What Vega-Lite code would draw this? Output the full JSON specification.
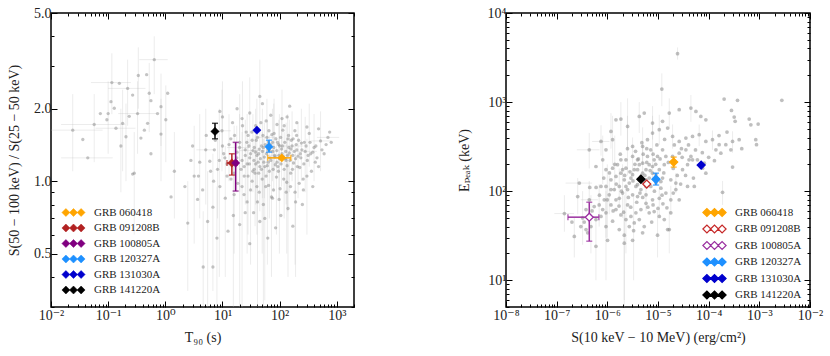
{
"$schema": "https://vega.github.io/schema/vega-lite/v6.json",
"background": "white",
"padding": {"left": 6, "top": 5, "right": 5, "bottom": 5},
"spacing": 152,
"bounds": "flush",
"config": {
 "font": "Liberation Serif",
 "view": {"stroke": "black", "strokeWidth": 1.5},
 "axis": {"grid": false, "domain": false, "labelFont": "Liberation Serif, DejaVu Serif, serif", "labelFontSize": 14, "labelColor": "#222", "titleFont": "Liberation Serif, DejaVu Serif, serif", "titleFontSize": 14, "titleFontWeight": "normal", "titleColor": "#222", "tickColor": "black", "labelOverlap": false, "labelFlush": false, "labelBound": false},
 "legend": {"labelFont": "Liberation Serif, DejaVu Serif, serif", "labelFontSize": 11, "labelColor": "#222"}
},
"datasets": {
 "L": [
  {"t":3.2,"r":1.05,"r1":0.55,"r2":1.7},{"t":4.5,"r":0.92},{"t":5.1,"r":1.35,"r1":0.8,"r2":2.0,"t1":3.5,"t2":7},{"t":6.0,"r":1.21},{"t":6.8,"r":0.78,"r1":0.35,"r2":1.3},{"t":7.5,"r":1.48},{"t":8.2,"r":1.12,"r1":0.7,"r2":1.6},{"t":9.0,"r":0.95},{"t":9.8,"r":1.62,"r1":1.1,"r2":2.4,"t1":6,"t2":14},{"t":10.5,"r":1.30},
  {"t":11.2,"r":0.85,"r1":0.4,"r2":1.4},{"t":12,"r":1.18},{"t":13,"r":1.42,"r1":1.0,"r2":1.9},{"t":14.1,"r":1.02},{"t":15.5,"r":0.72,"r1":0.3,"r2":1.2},{"t":16.3,"r":1.55},{"t":17.8,"r":1.25,"r1":0.9,"r2":1.7},{"t":18.5,"r":0.98},{"t":19.9,"r":1.38,"r1":0.95,"r2":1.9,"t1":12,"t2":30},{"t":21,"r":1.12},
  {"t":22.4,"r":1.70,"r1":1.1,"r2":2.6},{"t":23.8,"r":0.88},{"t":25.1,"r":1.28,"r1":0.8,"r2":1.8},{"t":26.6,"r":1.45},{"t":28,"r":1.05,"r1":0.6,"r2":1.5},{"t":29.5,"r":1.18},{"t":31,"r":0.92,"r1":0.45,"r2":1.45},{"t":32.6,"r":1.60},{"t":34.1,"r":1.34,"r1":0.9,"r2":1.9,"t1":20,"t2":55},{"t":35.5,"r":1.22},
  {"t":37.2,"r":1.08,"r1":0.65,"r2":1.55},{"t":39,"r":1.48},{"t":41,"r":0.82,"r1":0.3,"r2":1.35},{"t":43,"r":1.30},{"t":45,"r":1.15,"r1":0.75,"r2":1.6},{"t":47,"r":1.75},{"t":49.5,"r":1.02,"r1":0.5,"r2":1.6},{"t":52,"r":1.38},{"t":54,"r":1.26,"r1":0.85,"r2":1.75},{"t":57,"r":0.95},
  {"t":60,"r":1.52,"r1":1.05,"r2":2.2,"t1":40,"t2":90},{"t":63,"r":1.20},{"t":66,"r":1.10,"r1":0.7,"r2":1.55},{"t":69,"r":1.42},{"t":72,"r":0.86,"r1":0.4,"r2":1.35},{"t":76,"r":1.33},{"t":80,"r":1.58,"r1":1.1,"r2":2.2},{"t":84,"r":1.17},{"t":88,"r":1.04,"r1":0.6,"r2":1.5},{"t":92,"r":1.45},
  {"t":97,"r":1.28,"r1":0.85,"r2":1.8,"t1":60,"t2":150},{"t":102,"r":0.93},{"t":108,"r":1.36,"r1":0.95,"r2":1.85},{"t":114,"r":1.63},{"t":120,"r":1.12,"r1":0.7,"r2":1.6},{"t":126,"r":1.24},{"t":133,"r":0.99,"r1":0.5,"r2":1.5},{"t":140,"r":1.50},{"t":148,"r":1.31,"r1":0.9,"r2":1.8},{"t":156,"r":1.08},
  {"t":165,"r":1.40,"r1":1.0,"r2":1.95,"t1":100,"t2":260},{"t":175,"r":1.19},{"t":186,"r":0.90,"r1":0.45,"r2":1.4},{"t":198,"r":1.55},{"t":210,"r":1.27,"r1":0.85,"r2":1.75},{"t":225,"r":1.14},{"t":240,"r":1.44,"r1":1.0,"r2":2.0},{"t":258,"r":1.02},{"t":280,"r":1.33,"r1":0.9,"r2":1.85,"t1":180,"t2":450},{"t":305,"r":1.22},
  {"t":330,"r":1.58,"r1":1.15,"r2":2.1},{"t":360,"r":1.10},{"t":400,"r":1.38,"r1":1.0,"r2":1.9},{"t":450,"r":1.25},{"t":520,"r":1.47,"r1":1.1,"r2":1.95,"t1":350,"t2":800},{"t":600,"r":1.30},{"t":700,"r":1.52,"t1":450,"t2":1100},
  {"t":5.5,"r":0.68,"r1":0.3,"r2":1.1},{"t":12.5,"r":0.62},{"t":20,"r":0.66,"r1":0.3,"r2":1.1},{"t":35,"r":0.74},{"t":55,"r":0.70,"r1":0.32,"r2":1.15},{"t":85,"r":0.64},{"t":140,"r":0.77,"r1":0.4,"r2":1.2},{"t":250,"r":0.80},{"t":8,"r":0.58,"r1":0.3,"r2":0.95},{"t":4.6,"r":0.44,"r1":0.3,"r2":0.75},{"t":6.8,"r":0.44},
  {"t":10,"r":1.85,"r1":1.3,"r2":2.6},{"t":18,"r":2.0},{"t":30,"r":1.92,"r1":1.4,"r2":2.7},{"t":50,"r":2.1},{"t":70,"r":1.88},{"t":110,"r":1.82,"r1":1.35,"r2":2.4},{"t":150,"r":2.05},{"t":45,"r":2.25,"r1":1.6,"r2":3.2},
  {"t":25,"r":1.35},{"t":30,"r":1.25},{"t":38,"r":1.32,"r1":0.8,"r2":2.0},{"t":42,"r":1.20},{"t":48,"r":1.40},{"t":55,"r":1.15},{"t":62,"r":1.35},{"t":68,"r":1.25},{"t":75,"r":1.45,"r1":1.0,"r2":2.0},{"t":82,"r":1.28},
  {"t":90,"r":1.20},{"t":100,"r":1.40},{"t":110,"r":1.30},{"t":130,"r":1.22,"r1":0.8,"r2":1.75},{"t":145,"r":1.38},{"t":170,"r":1.28},{"t":200,"r":1.35},{"t":230,"r":1.30},{"t":160,"r":1.48},{"t":95,"r":1.10},
  {"t":58,"r":1.05},{"t":36,"r":1.12},{"t":24,"r":1.15},{"t":28,"r":1.55},{"t":65,"r":1.62},{"t":120,"r":1.70},{"t":185,"r":1.62},{"t":270,"r":1.45},{"t":350,"r":1.30},{"t":420,"r":1.20},
  {"t":300,"r":1.05,"r1":0.6,"r2":1.5},{"t":220,"r":0.98},{"t":130,"r":0.90},{"t":75,"r":0.85},{"t":40,"r":0.95},{"t":16,"r":1.08,"r1":0.5,"r2":1.7},{"t":11,"r":1.25},{"t":7,"r":1.00},{"t":4,"r":1.20,"r1":0.7,"r2":1.9},{"t":3,"r":1.40},
  {"t":18,"r":1.32},{"t":20,"r":1.45,"r1":0.9,"r2":2.3},{"t":22,"r":1.22},{"t":24,"r":1.05},{"t":26,"r":1.60},{"t":27,"r":1.18,"r1":0.5,"r2":1.9},{"t":29,"r":1.40},{"t":31,"r":1.30},{"t":33,"r":1.48},{"t":34,"r":1.10},
  {"t":36,"r":1.38},{"t":38,"r":1.18},{"t":40,"r":1.28,"r1":0.6,"r2":2.2},{"t":41,"r":1.52},{"t":43,"r":1.08},{"t":44,"r":1.36},{"t":46,"r":1.24},{"t":48,"r":1.12},{"t":50,"r":1.33,"r1":0.85,"r2":2.0},{"t":51,"r":1.55},
  {"t":53,"r":1.20},{"t":56,"r":1.42},{"t":59,"r":1.30},{"t":61,"r":1.16,"r1":0.45,"r2":1.8},{"t":64,"r":1.46},{"t":67,"r":1.34},{"t":70,"r":1.22},{"t":73,"r":1.56},{"t":77,"r":1.12},{"t":79,"r":1.38,"r1":0.9,"r2":2.1},
  {"t":83,"r":1.26},{"t":86,"r":1.50},{"t":89,"r":1.34},{"t":93,"r":1.15},{"t":96,"r":1.42},{"t":99,"r":1.24,"r1":0.5,"r2":1.9},{"t":104,"r":1.52},{"t":106,"r":1.18},{"t":112,"r":1.40},{"t":116,"r":1.26},
  {"t":123,"r":1.45},{"t":128,"r":1.33},{"t":135,"r":1.16},{"t":138,"r":1.28,"r1":0.75,"r2":1.9},{"t":143,"r":1.55},{"t":152,"r":1.22},{"t":158,"r":1.36},{"t":168,"r":1.12},{"t":172,"r":1.50},{"t":180,"r":1.33},
  {"t":190,"r":1.24},{"t":195,"r":1.42},{"t":205,"r":1.15},{"t":215,"r":1.48},{"t":235,"r":1.25},{"t":245,"r":1.35},{"t":265,"r":1.18},{"t":290,"r":1.40},{"t":315,"r":1.28},{"t":340,"r":1.45},
  {"t":380,"r":1.32},{"t":430,"r":1.40},{"t":480,"r":1.15},{"t":550,"r":1.35},{"t":650,"r":1.42},{"t":800,"r":1.45},{"t":750,"r":1.60},
  {"t":14,"r":1.50},{"t":12,"r":1.05},{"t":10,"r":1.40},{"t":8.8,"r":1.22,"r1":0.4,"r2":2.0},{"t":7.2,"r":1.35},{"t":6.2,"r":1.10},{"t":5.2,"r":1.55},{"t":3.8,"r":1.05},{"t":2.8,"r":1.22},{"t":2.2,"r":0.95},
  {"t":16,"r":0.88},{"t":22,"r":0.95,"r1":0.3,"r2":1.6},{"t":27,"r":0.82},{"t":33,"r":1.00},{"t":44,"r":0.90},{"t":52,"r":0.80,"r1":0.3,"r2":1.5},{"t":64,"r":0.96},{"t":78,"r":0.92},{"t":98,"r":0.84},{"t":118,"r":1.02},
  {"t":155,"r":0.95},{"t":190,"r":0.82,"r1":0.4,"r2":1.3},{"t":260,"r":0.92},{"t":380,"r":0.95},{"t":25,"r":0.74},{"t":45,"r":0.68},{"t":105,"r":0.72},{"t":62,"r":0.58},{"t":30,"r":0.55},{"t":170,"r":0.65},
  {"t":22,"r":1.82},{"t":38,"r":1.70},{"t":58,"r":1.78},{"t":90,"r":1.72},{"t":135,"r":1.85},{"t":200,"r":1.75},{"t":300,"r":1.68},{"t":480,"r":1.65},{"t":15,"r":1.75},{"t":9,"r":1.95},
  {"t":0.116,"r":2.57,"r1":1.9,"r2":3.4,"t1":0.05,"t2":0.25},{"t":0.157,"r":2.55},{"t":0.337,"r":2.75,"r1":2.0,"r2":3.6},{"t":0.471,"r":2.77},{"t":0.641,"r":3.20,"r1":2.3,"r2":4.0,"t1":0.35,"t2":1.1},{"t":0.56,"r":2.16},{"t":0.524,"r":2.32,"r1":1.6,"r2":3.1},{"t":0.268,"r":2.28},{"t":0.219,"r":2.43,"r1":1.7,"r2":3.2,"t1":0.1,"t2":0.45},{"t":0.128,"r":2.01},
  {"t":0.10,"r":1.91,"r1":1.3,"r2":2.6},{"t":0.073,"r":1.91},{"t":0.057,"r":1.72,"t1":0.015,"t2":0.2,"r1":1.2,"r2":2.3},{"t":0.095,"r":1.80},{"t":0.179,"r":1.74,"r1":1.1,"r2":2.4},{"t":0.234,"r":1.86},{"t":0.327,"r":1.91,"r1":1.3,"r2":2.6,"t1":0.15,"t2":0.7},{"t":0.49,"r":1.74},{"t":0.84,"r":1.57,"r1":1.0,"r2":2.2},{"t":1.10,"r":2.32},
  {"t":0.84,"r":2.04,"r1":1.4,"r2":2.8},{"t":0.374,"r":1.51},{"t":0.167,"r":1.40,"r1":0.9,"r2":2.0},{"t":0.044,"r":1.25,"t1":0.015,"t2":0.12},{"t":0.024,"r":1.63,"r1":1.1,"r2":2.3,"t1":0.01,"t2":0.08},{"t":0.036,"r":1.49},{"t":0.286,"r":1.08,"r1":0.6,"r2":1.6},{"t":0.56,"r":1.30},{"t":0.112,"r":2.14},{"t":0.205,"r":1.53,"r1":1.0,"r2":2.1},
  {"t":0.73,"r":1.91},{"t":1.02,"r":1.80,"r1":1.2,"r2":2.5},{"t":0.43,"r":1.63},{"t":0.137,"r":1.66,"t1":0.06,"t2":0.3},{"t":0.268,"r":1.07},{"t":1.44,"r":1.10,"r1":0.7,"r2":1.6},{"t":1.26,"r":0.86},{"t":2.47,"r":0.67,"r1":0.35,"r2":1.0},{"t":3.67,"r":0.84}
 ],
 "LH": [
  {"grb":"GRB 060418","t":109,"r":1.25,"t1":62,"t2":157},
  {"grb":"GRB 091208B","t":14.6,"r":1.19,"t1":12,"t2":18,"r1":1.06,"r2":1.30},
  {"grb":"GRB 100805A","t":17,"r":1.19,"r1":0.91,"r2":1.45},
  {"grb":"GRB 120327A","t":65,"r":1.39,"r1":1.32,"r2":1.48},
  {"grb":"GRB 131030A","t":40,"r":1.63},
  {"grb":"GRB 141220A","t":7.4,"r":1.61,"r1":1.50,"r2":1.74}
 ],
 "R": [
  {"s":2.43e-5,"e":3490,"e1":3000,"e2":4100},{"s":1.19e-5,"e":1400,"e1":900,"e2":2100},{"s":2.02e-4,"e":1081},{"s":3.71e-4,"e":1045},{"s":2.78e-3,"e":1045},{"s":2.82e-4,"e":805},{"s":3.19e-4,"e":678},{"s":3.33e-4,"e":607},{"s":6.31e-4,"e":644},{"s":9.48e-4,"e":566},
  {"s":6.8e-4,"e":556},{"s":4.46e-5,"e":857,"e1":600,"e2":1200},{"s":5.6e-5,"e":785},{"s":7.0e-5,"e":690},{"s":8.8e-5,"e":632},{"s":2.62e-5,"e":820},{"s":1.67e-5,"e":752,"e1":500,"e2":1100},{"s":1.23e-5,"e":607},{"s":7.8e-6,"e":581,"e1":380,"e2":900},{"s":4.27e-6,"e":690,"e1":450,"e2":1000},
  {"s":5.35e-6,"e":752},{"s":1.85e-6,"e":644,"e1":420,"e2":1000},{"s":1.48e-6,"e":632},{"s":1.18e-6,"e":468,"e1":300,"e2":750},{"s":7.5e-7,"e":361,"e1":250,"e2":550,"s1":5e-7,"s2":1.1e-6},{"s":8.1e-7,"e":225,"e1":120,"e2":420},{"s":9.4e-7,"e":174},{"s":1.27e-6,"e":181},{"s":1.85e-6,"e":159},{"s":2.33e-6,"e":181},
  {"s":3.15e-6,"e":245,"e1":150,"e2":400},{"s":3.95e-6,"e":225},{"s":4.97e-6,"e":318,"e1":200,"e2":520},{"s":6.2e-6,"e":378},{"s":7.8e-6,"e":449,"e1":300,"e2":700},{"s":1.06e-5,"e":489,"e1":330,"e2":720},{"s":1.55e-5,"e":511},{"s":1.94e-5,"e":411,"e1":300,"e2":560},{"s":2.62e-5,"e":361},{"s":3.55e-5,"e":394},
  {"s":4.8e-5,"e":411},{"s":6.5e-5,"e":430,"e1":320,"e2":560},{"s":8.8e-5,"e":361},{"s":1.19e-4,"e":378,"e1":290,"e2":480},{"s":1.61e-4,"e":332},{"s":2.18e-4,"e":332},{"s":2.96e-4,"e":361,"e1":270,"e2":470},{"s":4.0e-4,"e":378},{"s":8.5e-4,"e":378},{"s":8.8e-4,"e":332},
  {"s":1.39e-4,"e":291},{"s":1.74e-4,"e":267},{"s":2.74e-4,"e":291},{"s":2.96e-4,"e":186},{"s":8.8e-5,"e":159},{"s":7.6e-5,"e":181},{"s":4.8e-5,"e":225},{"s":3.83e-5,"e":198},{"s":3.05e-5,"e":174},{"s":2.25e-5,"e":123,"e1":95,"e2":160},
  {"s":1.79e-5,"e":134},{"s":1.23e-5,"e":140},{"s":1.06e-5,"e":174},{"s":7.8e-6,"e":189,"e1":130,"e2":290},{"s":6.2e-6,"e":245},{"s":4.97e-6,"e":206,"e1":140,"e2":330},{"s":3.95e-6,"e":174},{"s":3.15e-6,"e":153},{"s":2.71e-6,"e":123},{"s":2.16e-6,"e":134},
  {"s":1.72e-6,"e":113,"e1":70,"e2":180},{"s":1.37e-6,"e":104},{"s":1.09e-6,"e":91,"e1":55,"e2":150},{"s":8.7e-7,"e":80},{"s":6.9e-7,"e":70,"e1":40,"e2":120},{"s":5.5e-7,"e":67},{"s":4.4e-7,"e":80,"e1":50,"e2":130,"s1":3e-7,"s2":6.5e-7},{"s":3.8e-7,"e":62},{"s":3.25e-7,"e":50,"e1":25,"e2":100},{"s":2.6e-7,"e":87,"e1":55,"e2":140},
  {"s":2.23e-7,"e":31,"e1":18,"e2":50},{"s":1.42e-7,"e":56,"e1":35,"e2":90,"s1":9e-8,"s2":2.2e-7},{"s":7.5e-7,"e":113},{"s":9.4e-7,"e":113},{"s":1.18e-6,"e":134},{"s":1.48e-6,"e":146},{"s":2.0e-6,"e":95,"e1":50,"e2":200},{"s":2.51e-6,"e":104},{"s":3.15e-6,"e":91},{"s":3.95e-6,"e":118},
  {"s":4.6e-6,"e":104},{"s":5.8e-6,"e":91,"e1":60,"e2":140},{"s":7.2e-6,"e":113},{"s":9.1e-6,"e":123},{"s":1.14e-5,"e":108},{"s":1.43e-5,"e":95},{"s":1.79e-5,"e":80,"e1":55,"e2":115},{"s":2.25e-5,"e":104},{"s":2.62e-5,"e":80},{"s":3.83e-5,"e":113},
  {"s":4.1e-5,"e":225},{"s":5.2e-5,"e":113},{"s":1.06e-5,"e":83,"e1":50,"e2":140},{"s":7.8e-6,"e":80},{"s":5.8e-6,"e":73},{"s":4.6e-6,"e":62},{"s":3.66e-6,"e":57},{"s":2.92e-6,"e":52},{"s":2.33e-6,"e":48,"e1":20,"e2":110},{"s":1.85e-6,"e":54},
  {"s":1.48e-6,"e":62},{"s":1.18e-6,"e":70},{"s":9.4e-7,"e":57,"e1":30,"e2":100},{"s":7.5e-7,"e":52},{"s":5.96e-7,"e":48},{"s":4.75e-7,"e":40,"e1":20,"e2":90},{"s":3.8e-7,"e":37},{"s":3.0e-7,"e":40},{"s":9.4e-7,"e":40,"e1":10,"e2":110},{"s":1.27e-6,"e":46},
  {"s":1.72e-6,"e":37},{"s":2.16e-6,"e":32,"e1":5,"e2":90},{"s":2.71e-6,"e":40},{"s":3.4e-6,"e":44},{"s":4.27e-6,"e":48},{"s":5.35e-6,"e":40},{"s":6.7e-6,"e":57},{"s":8.4e-6,"e":59},{"s":1.06e-5,"e":52},{"s":1.33e-5,"e":48},
  {"s":1.67e-5,"e":37,"e1":20,"e2":60},{"s":9.8e-6,"e":32,"e1":18,"e2":60},{"s":4.97e-6,"e":34},{"s":3.15e-6,"e":28},{"s":2.16e-6,"e":26,"e1":6,"e2":60},{"s":1.01e-6,"e":28},{"s":5.96e-7,"e":24,"e1":10,"e2":50},{"s":4.1e-7,"e":34},{"s":1.55e-5,"e":37},{"s":1.79e-5,"e":57},
  {"s":1.88e-4,"e":97,"e1":70,"e2":130},{"s":5.96e-7,"e":189},{"s":8.1e-7,"e":62},{"s":1.48e-6,"e":80},{"s":2.51e-6,"e":70},{"s":5.8e-6,"e":134},{"s":7.8e-6,"e":159},{"s":1.43e-5,"e":245},{"s":1.94e-5,"e":245},{"s":2.62e-5,"e":267},
  {"s":3.55e-5,"e":291},{"s":4.46e-5,"e":245},{"s":6.0e-5,"e":225},{"s":8.2e-5,"e":206},{"s":1.33e-5,"e":198},{"s":4.6e-6,"e":146},{"s":3.66e-6,"e":113},{"s":2.33e-6,"e":225},{"s":3.15e-6,"e":318},{"s":1.85e-6,"e":225},
  {"s":2.51e-6,"e":533,"e1":300,"e2":1100},{"s":1.27e-6,"e":378,"e1":200,"e2":700},{"s":9.4e-7,"e":291},{"s":4.4e-7,"e":291,"e1":180,"e2":450,"s1":2.5e-7,"s2":7e-7},{"s":2.8e-7,"e":123,"s1":1.5e-7,"s2":5e-7},
  {"s":5.8e-6,"e":174},{"s":6.7e-6,"e":198},{"s":8.4e-6,"e":225},{"s":9.8e-6,"e":245},{"s":1.23e-5,"e":291},{"s":7.2e-6,"e":291},{"s":4.27e-6,"e":198},{"s":3.4e-6,"e":174},{"s":2.0e-6,"e":174},{"s":1.59e-6,"e":198},
  {"s":4.97e-6,"e":159},{"s":6.7e-6,"e":140},{"s":9.1e-6,"e":153},{"s":1.14e-5,"e":128},{"s":4.27e-6,"e":134},{"s":2.92e-6,"e":140},{"s":2.33e-6,"e":113},{"s":1.72e-6,"e":83},{"s":1.18e-6,"e":104},{"s":3.95e-6,"e":87},{"s":5.8e-6,"e":113},
  {"s":2.2e-6,"e":150},{"s":2.8e-6,"e":165},{"s":3.5e-6,"e":200},{"s":4.1e-6,"e":230},{"s":5.1e-6,"e":260},{"s":6.0e-6,"e":210},{"s":7.0e-6,"e":170},{"s":8.0e-6,"e":260},{"s":9.0e-6,"e":200},{"s":1.1e-5,"e":230},
  {"s":1.3e-5,"e":160},{"s":1.6e-5,"e":210},{"s":2.0e-5,"e":180},{"s":2.4e-5,"e":150},{"s":3.0e-5,"e":240},{"s":1.5e-6,"e":120},{"s":1.9e-6,"e":100},{"s":2.6e-6,"e":85},{"s":3.2e-6,"e":130},{"s":4.4e-6,"e":95},
  {"s":5.5e-6,"e":150},{"s":6.5e-6,"e":120},{"s":8.5e-6,"e":100},{"s":1.2e-5,"e":90},{"s":1.0e-6,"e":80,"e1":30,"e2":200},{"s":1.3e-6,"e":60},{"s":1.7e-6,"e":68},{"s":2.1e-6,"e":58},{"s":2.9e-6,"e":66},{"s":3.8e-6,"e":75},
  {"s":5.0e-6,"e":85},{"s":6.3e-6,"e":66},{"s":8.0e-6,"e":70},{"s":1.0e-5,"e":64},{"s":1.25e-5,"e":72},{"s":7.0e-7,"e":90},{"s":6.0e-7,"e":110},{"s":8.5e-7,"e":140},{"s":1.1e-6,"e":160},{"s":1.4e-6,"e":200,"e1":100,"e2":420},
  {"s":1.8e-6,"e":260},{"s":2.5e-6,"e":300,"e1":150,"e2":700},{"s":3.6e-6,"e":280},{"s":4.8e-6,"e":350},{"s":6.0e-6,"e":300},{"s":9.5e-6,"e":330},{"s":1.35e-5,"e":380},{"s":2.1e-5,"e":330},{"s":2.9e-5,"e":300},{"s":4.0e-5,"e":330},
  {"s":5.5e-5,"e":290},{"s":7.5e-5,"e":270},{"s":1.0e-4,"e":240},{"s":1.3e-4,"e":220},{"s":3.5e-5,"e":150},{"s":5.0e-5,"e":140},{"s":2.8e-5,"e":120},{"s":1.6e-4,"e":420},{"s":2.3e-4,"e":460},{"s":4.5e-4,"e":300},
  {"s":5.0e-7,"e":60},{"s":3.5e-7,"e":45},{"s":2.0e-7,"e":45},{"s":4.5e-7,"e":110},{"s":3.3e-6,"e":36,"e1":10,"e2":90},{"s":7.5e-6,"e":45},{"s":1.5e-5,"e":65},{"s":2.0e-5,"e":95}
 ],
 "RH": [
  {"grb":"GRB 060418","s":2.04e-5,"e":212,"e1":186,"e2":241},
  {"grb":"GRB 091208B","s":6.0e-6,"e":120},
  {"grb":"GRB 100805A","s":4.4e-7,"e":51,"s1":1.67e-7,"s2":6.8e-7,"e1":27.4,"e2":75},
  {"grb":"GRB 120327A","s":9.1e-6,"e":136,"e1":117,"e2":159},
  {"grb":"GRB 131030A","s":7.1e-5,"e":196},
  {"grb":"GRB 141220A","s":4.6e-6,"e":136}
 ]
},
"resolve": {"scale": {"x": "independent", "y": "independent", "color": "independent", "fill": "independent", "stroke": "independent"}, "legend": {"color": "independent", "fill": "independent", "stroke": "independent"}},
"hconcat": [
 {
  "width": 303, "height": 294,
  "resolve": {"axis": {"x": "independent", "y": "independent"}},
  "layer": [
   {"data": {"name": "L"}, "transform": [{"filter": "isValid(datum.r1)"}],
    "mark": {"type": "rule", "color": "#b8b8b8", "opacity": 0.35, "strokeWidth": 0.8, "clip": true},
    "encoding": {
     "x": {"field": "t", "type": "quantitative", "scale": {"type": "log", "domain": [0.01, 2000], "nice": false},
      "axis": {"orient": "bottom", "values": [0.01,0.02,0.03,0.04,0.05,0.06,0.07,0.08,0.09,0.1,0.2,0.3,0.4,0.5,0.6,0.7,0.8,0.9,1,2,3,4,5,6,7,8,9,10,20,30,40,50,60,70,80,90,100,200,300,400,500,600,700,800,900,1000,2000],
       "labelExpr": "abs(log(datum.value)/LN10 - round(log(datum.value)/LN10)) < 0.001 ? '10' + (round(log(datum.value)/LN10) < 0 ? '⁻' : '') + ['⁰','¹','²','³','⁴','⁵','⁶','⁷','⁸','⁹'][abs(round(log(datum.value)/LN10))] : ''",
       "tickSize": {"condition": {"test": "abs(log(datum.value)/LN10 - round(log(datum.value)/LN10)) < 0.001", "value": -6}, "value": -3},
       "labelPadding": 7, "title": "T₉₀ (s)", "titlePadding": 5}},
     "y": {"field": "r1", "type": "quantitative", "scale": {"type": "log", "domain": [0.3, 5], "nice": false},
      "axis": {"orient": "left", "values": [0.3,0.4,0.5,0.6,0.7,0.8,0.9,1,2,3,4,5],
       "labelExpr": "indexof([0.5,1,2,5], datum.value) >= 0 ? format(datum.value, '.1f') : ''",
       "tickSize": {"condition": {"test": "indexof([0.5,1,2,5], datum.value) >= 0", "value": -6}, "value": -3},
       "labelPadding": 6, "title": "S(50 − 100 keV) / S(25 − 50 keV)", "titlePadding": 12}},
     "y2": {"field": "r2"}
    }},
   {"data": {"name": "L"}, "transform": [{"filter": "isValid(datum.t1)"}],
    "mark": {"type": "rule", "color": "#b8b8b8", "opacity": 0.35, "strokeWidth": 0.8, "clip": true},
    "encoding": {"x": {"field": "t1", "type": "quantitative", "axis": null}, "x2": {"field": "t2"}, "y": {"field": "r", "type": "quantitative", "axis": null}}},
   {"data": {"name": "L"},
    "mark": {"type": "circle", "size": 11, "color": "#8a8a8a", "opacity": 0.5},
    "encoding": {
     "x": {"field": "t", "type": "quantitative", "axis": {"orient": "top", "values": [0.01,0.02,0.03,0.04,0.05,0.06,0.07,0.08,0.09,0.1,0.2,0.3,0.4,0.5,0.6,0.7,0.8,0.9,1,2,3,4,5,6,7,8,9,10,20,30,40,50,60,70,80,90,100,200,300,400,500,600,700,800,900,1000,2000], "labels": false, "title": null,
       "tickSize": {"condition": {"test": "abs(log(datum.value)/LN10 - round(log(datum.value)/LN10)) < 0.001", "value": -6}, "value": -3}}},
     "y": {"field": "r", "type": "quantitative", "axis": {"orient": "right", "values": [0.3,0.4,0.5,0.6,0.7,0.8,0.9,1,2,3,4,5], "labels": false, "title": null,
       "tickSize": {"condition": {"test": "indexof([0.5,1,2,5], datum.value) >= 0", "value": -6}, "value": -3}}}
    }},
   {"data": {"name": "LH"}, "transform": [{"filter": "isValid(datum.r1)"}],
    "mark": {"type": "rule", "strokeWidth": 1.5},
    "encoding": {"x": {"field": "t", "type": "quantitative", "axis": null}, "y": {"field": "r1", "type": "quantitative", "axis": null}, "y2": {"field": "r2"},
     "color": {"field": "grb", "type": "nominal", "legend": null, "scale": {"domain": ["GRB 141220A","GRB 131030A","GRB 120327A","GRB 100805A","GRB 091208B","GRB 060418"], "range": ["#000000","#0000CD","#1E90FF","#800080","#B22222","#FFA500"]}}}},
   {"data": {"name": "LH"}, "transform": [{"filter": "isValid(datum.r1)"}],
    "mark": {"type": "tick", "orient": "horizontal", "size": 6, "thickness": 1.5},
    "encoding": {"x": {"field": "t", "type": "quantitative", "axis": null}, "y": {"field": "r1", "type": "quantitative", "axis": null}, "color": {"field": "grb", "type": "nominal", "legend": null}}},
   {"data": {"name": "LH"}, "transform": [{"filter": "isValid(datum.r2)"}],
    "mark": {"type": "tick", "orient": "horizontal", "size": 6, "thickness": 1.5},
    "encoding": {"x": {"field": "t", "type": "quantitative", "axis": null}, "y": {"field": "r2", "type": "quantitative", "axis": null}, "color": {"field": "grb", "type": "nominal", "legend": null}}},
   {"data": {"name": "LH"}, "transform": [{"filter": "isValid(datum.t1)"}],
    "mark": {"type": "rule", "strokeWidth": 1.5},
    "encoding": {"x": {"field": "t1", "type": "quantitative", "axis": null}, "x2": {"field": "t2"}, "y": {"field": "r", "type": "quantitative", "axis": null}, "color": {"field": "grb", "type": "nominal", "legend": null}}},
   {"data": {"name": "LH"}, "transform": [{"filter": "isValid(datum.t1)"}],
    "mark": {"type": "tick", "orient": "vertical", "size": 6, "thickness": 1.5},
    "encoding": {"x": {"field": "t1", "type": "quantitative", "axis": null}, "y": {"field": "r", "type": "quantitative", "axis": null}, "color": {"field": "grb", "type": "nominal", "legend": null}}},
   {"data": {"name": "LH"}, "transform": [{"filter": "isValid(datum.t2)"}],
    "mark": {"type": "tick", "orient": "vertical", "size": 6, "thickness": 1.5},
    "encoding": {"x": {"field": "t2", "type": "quantitative", "axis": null}, "y": {"field": "r", "type": "quantitative", "axis": null}, "color": {"field": "grb", "type": "nominal", "legend": null}}},
   {"data": {"name": "LH"},
    "mark": {"type": "point", "shape": "diamond", "filled": true, "size": 70, "strokeWidth": 0.5, "opacity": 1},
    "encoding": {"x": {"field": "t", "type": "quantitative", "axis": null}, "y": {"field": "r", "type": "quantitative", "axis": null},
     "fill": {"field": "grb", "type": "nominal", "scale": {"domain": ["GRB 060418","GRB 091208B","GRB 100805A","GRB 120327A","GRB 131030A","GRB 141220A"], "range": ["#FFA500","#B22222","#800080","#1E90FF","#0000CD","#000000"]},
      "legend": {"title": null, "orient": "none", "legendX": 17, "legendY": 194, "padding": 0, "rowPadding": 3.5, "symbolSize": 64, "labelOffset": 15,
       "symbolType": "M-2.9,0L-1.9,-1L-0.9,0L-1.9,1ZM-1,0L0,-1L1,0L0,1ZM0.9,0L1.9,-1L2.9,0L1.9,1Z", "symbolStrokeWidth": 0.5, "symbolOpacity": 1}},
     "stroke": {"field": "grb", "type": "nominal", "scale": {"domain": ["GRB 060418","GRB 091208B","GRB 100805A","GRB 120327A","GRB 131030A","GRB 141220A"], "range": ["#FFA500","#B22222","#800080","#1E90FF","#0000CD","#000000"]},
      "legend": {"title": null, "orient": "none", "legendX": 17, "legendY": 194, "padding": 0, "rowPadding": 3.5, "symbolSize": 64, "labelOffset": 15,
       "symbolType": "M-2.9,0L-1.9,-1L-0.9,0L-1.9,1ZM-1,0L0,-1L1,0L0,1ZM0.9,0L1.9,-1L2.9,0L1.9,1Z", "symbolStrokeWidth": 0.5, "symbolOpacity": 1}}}}
  ]
 },
 {
  "width": 304, "height": 294,
  "resolve": {"axis": {"x": "independent", "y": "independent"}},
  "layer": [
   {"data": {"name": "R"}, "transform": [{"filter": "isValid(datum.e1)"}],
    "mark": {"type": "rule", "color": "#b8b8b8", "opacity": 0.35, "strokeWidth": 0.8, "clip": true},
    "encoding": {
     "x": {"field": "s", "type": "quantitative", "scale": {"type": "log", "domain": [1e-8, 1e-2], "nice": false},
      "axis": {"orient": "bottom", "values": [1e-8,2e-8,3e-8,4e-8,5e-8,6e-8,7e-8,8e-8,9e-8,1e-7,2e-7,3e-7,4e-7,5e-7,6e-7,7e-7,8e-7,9e-7,1e-6,2e-6,3e-6,4e-6,5e-6,6e-6,7e-6,8e-6,9e-6,1e-5,2e-5,3e-5,4e-5,5e-5,6e-5,7e-5,8e-5,9e-5,1e-4,2e-4,3e-4,4e-4,5e-4,6e-4,7e-4,8e-4,9e-4,1e-3,2e-3,3e-3,4e-3,5e-3,6e-3,7e-3,8e-3,9e-3,1e-2],
       "labelExpr": "abs(log(datum.value)/LN10 - round(log(datum.value)/LN10)) < 0.001 ? '10' + (round(log(datum.value)/LN10) < 0 ? '⁻' : '') + ['⁰','¹','²','³','⁴','⁵','⁶','⁷','⁸','⁹'][abs(round(log(datum.value)/LN10))] : ''",
       "tickSize": {"condition": {"test": "abs(log(datum.value)/LN10 - round(log(datum.value)/LN10)) < 0.001", "value": -6}, "value": -3},
       "labelPadding": 7, "title": "S(10 keV − 10 MeV) (erg/cm²)", "titlePadding": 5}},
     "y": {"field": "e1", "type": "quantitative", "scale": {"type": "log", "domain": [5, 10000], "nice": false},
      "axis": {"orient": "left", "values": [5,6,7,8,9,10,20,30,40,50,60,70,80,90,100,200,300,400,500,600,700,800,900,1000,2000,3000,4000,5000,6000,7000,8000,9000,10000],
       "labelExpr": "abs(log(datum.value)/LN10 - round(log(datum.value)/LN10)) < 0.001 ? '10' + (round(log(datum.value)/LN10) < 0 ? '⁻' : '') + ['⁰','¹','²','³','⁴','⁵','⁶','⁷','⁸','⁹'][abs(round(log(datum.value)/LN10))] : ''",
       "tickSize": {"condition": {"test": "abs(log(datum.value)/LN10 - round(log(datum.value)/LN10)) < 0.001", "value": -6}, "value": -3},
       "labelPadding": 6, "title": "Eₚₑₐₖ (keV)", "titlePadding": 16}},
     "y2": {"field": "e2"}
    }},
   {"data": {"name": "R"}, "transform": [{"filter": "isValid(datum.s1)"}],
    "mark": {"type": "rule", "color": "#b8b8b8", "opacity": 0.35, "strokeWidth": 0.8, "clip": true},
    "encoding": {"x": {"field": "s1", "type": "quantitative", "axis": null}, "x2": {"field": "s2"}, "y": {"field": "e", "type": "quantitative", "axis": null}}},
   {"data": {"name": "R"},
    "mark": {"type": "circle", "size": 14, "color": "#8a8a8a", "opacity": 0.55},
    "encoding": {
     "x": {"field": "s", "type": "quantitative", "axis": {"orient": "top", "values": [1e-8,2e-8,3e-8,4e-8,5e-8,6e-8,7e-8,8e-8,9e-8,1e-7,2e-7,3e-7,4e-7,5e-7,6e-7,7e-7,8e-7,9e-7,1e-6,2e-6,3e-6,4e-6,5e-6,6e-6,7e-6,8e-6,9e-6,1e-5,2e-5,3e-5,4e-5,5e-5,6e-5,7e-5,8e-5,9e-5,1e-4,2e-4,3e-4,4e-4,5e-4,6e-4,7e-4,8e-4,9e-4,1e-3,2e-3,3e-3,4e-3,5e-3,6e-3,7e-3,8e-3,9e-3,1e-2], "labels": false, "title": null,
       "tickSize": {"condition": {"test": "abs(log(datum.value)/LN10 - round(log(datum.value)/LN10)) < 0.001", "value": -6}, "value": -3}}},
     "y": {"field": "e", "type": "quantitative", "axis": {"orient": "right", "values": [5,6,7,8,9,10,20,30,40,50,60,70,80,90,100,200,300,400,500,600,700,800,900,1000,2000,3000,4000,5000,6000,7000,8000,9000,10000], "labels": false, "title": null,
       "tickSize": {"condition": {"test": "abs(log(datum.value)/LN10 - round(log(datum.value)/LN10)) < 0.001", "value": -6}, "value": -3}}}
    }},
   {"data": {"name": "RH"}, "transform": [{"filter": "isValid(datum.e1)"}],
    "mark": {"type": "rule", "strokeWidth": 1.5},
    "encoding": {"x": {"field": "s", "type": "quantitative", "axis": null}, "y": {"field": "e1", "type": "quantitative", "axis": null}, "y2": {"field": "e2"},
     "color": {"field": "grb", "type": "nominal", "legend": null, "scale": {"domain": ["GRB 141220A","GRB 131030A","GRB 120327A","GRB 100805A","GRB 091208B","GRB 060418"], "range": ["#000000","#0000CD","#1E90FF","#9B30A0","#B22222","#FFA500"]}}}},
   {"data": {"name": "RH"}, "transform": [{"filter": "isValid(datum.e1)"}],
    "mark": {"type": "tick", "orient": "horizontal", "size": 6, "thickness": 1.5},
    "encoding": {"x": {"field": "s", "type": "quantitative", "axis": null}, "y": {"field": "e1", "type": "quantitative", "axis": null}, "color": {"field": "grb", "type": "nominal", "legend": null}}},
   {"data": {"name": "RH"}, "transform": [{"filter": "isValid(datum.e2)"}],
    "mark": {"type": "tick", "orient": "horizontal", "size": 6, "thickness": 1.5},
    "encoding": {"x": {"field": "s", "type": "quantitative", "axis": null}, "y": {"field": "e2", "type": "quantitative", "axis": null}, "color": {"field": "grb", "type": "nominal", "legend": null}}},
   {"data": {"name": "RH"}, "transform": [{"filter": "isValid(datum.s1)"}],
    "mark": {"type": "rule", "strokeWidth": 1.5},
    "encoding": {"x": {"field": "s1", "type": "quantitative", "axis": null}, "x2": {"field": "s2"}, "y": {"field": "e", "type": "quantitative", "axis": null}, "color": {"field": "grb", "type": "nominal", "legend": null}}},
   {"data": {"name": "RH"}, "transform": [{"filter": "isValid(datum.s1)"}],
    "mark": {"type": "tick", "orient": "vertical", "size": 6, "thickness": 1.5},
    "encoding": {"x": {"field": "s1", "type": "quantitative", "axis": null}, "y": {"field": "e", "type": "quantitative", "axis": null}, "color": {"field": "grb", "type": "nominal", "legend": null}}},
   {"data": {"name": "RH"}, "transform": [{"filter": "isValid(datum.s2)"}],
    "mark": {"type": "tick", "orient": "vertical", "size": 6, "thickness": 1.5},
    "encoding": {"x": {"field": "s2", "type": "quantitative", "axis": null}, "y": {"field": "e", "type": "quantitative", "axis": null}, "color": {"field": "grb", "type": "nominal", "legend": null}}},
   {"data": {"name": "RH"},
    "mark": {"type": "point", "shape": "diamond", "filled": true, "size": 64, "strokeWidth": 1.3, "opacity": 1},
    "encoding": {"x": {"field": "s", "type": "quantitative", "axis": null}, "y": {"field": "e", "type": "quantitative", "axis": null},
     "fill": {"field": "grb", "type": "nominal", "scale": {"domain": ["GRB 060418","GRB 091208B","GRB 100805A","GRB 120327A","GRB 131030A","GRB 141220A"], "range": ["#FFA500","#FFFFFF","#FFFFFF","#1E90FF","#0000CD","#000000"]},
      "legend": {"title": null, "orient": "none", "legendX": 203, "legendY": 194, "padding": 0, "rowPadding": 3.5, "symbolSize": 64, "labelOffset": 15,
       "symbolType": "M-2.9,0L-1.9,-1L-0.9,0L-1.9,1ZM-1,0L0,-1L1,0L0,1ZM0.9,0L1.9,-1L2.9,0L1.9,1Z", "symbolStrokeWidth": 1.2, "symbolOpacity": 1}},
     "stroke": {"field": "grb", "type": "nominal", "scale": {"domain": ["GRB 060418","GRB 091208B","GRB 100805A","GRB 120327A","GRB 131030A","GRB 141220A"], "range": ["#FFA500","#C62828","#9B30A0","#1E90FF","#0000CD","#000000"]},
      "legend": {"title": null, "orient": "none", "legendX": 203, "legendY": 194, "padding": 0, "rowPadding": 3.5, "symbolSize": 64, "labelOffset": 15,
       "symbolType": "M-2.9,0L-1.9,-1L-0.9,0L-1.9,1ZM-1,0L0,-1L1,0L0,1ZM0.9,0L1.9,-1L2.9,0L1.9,1Z", "symbolStrokeWidth": 1.2, "symbolOpacity": 1}}}}
  ]
 }
]
}
